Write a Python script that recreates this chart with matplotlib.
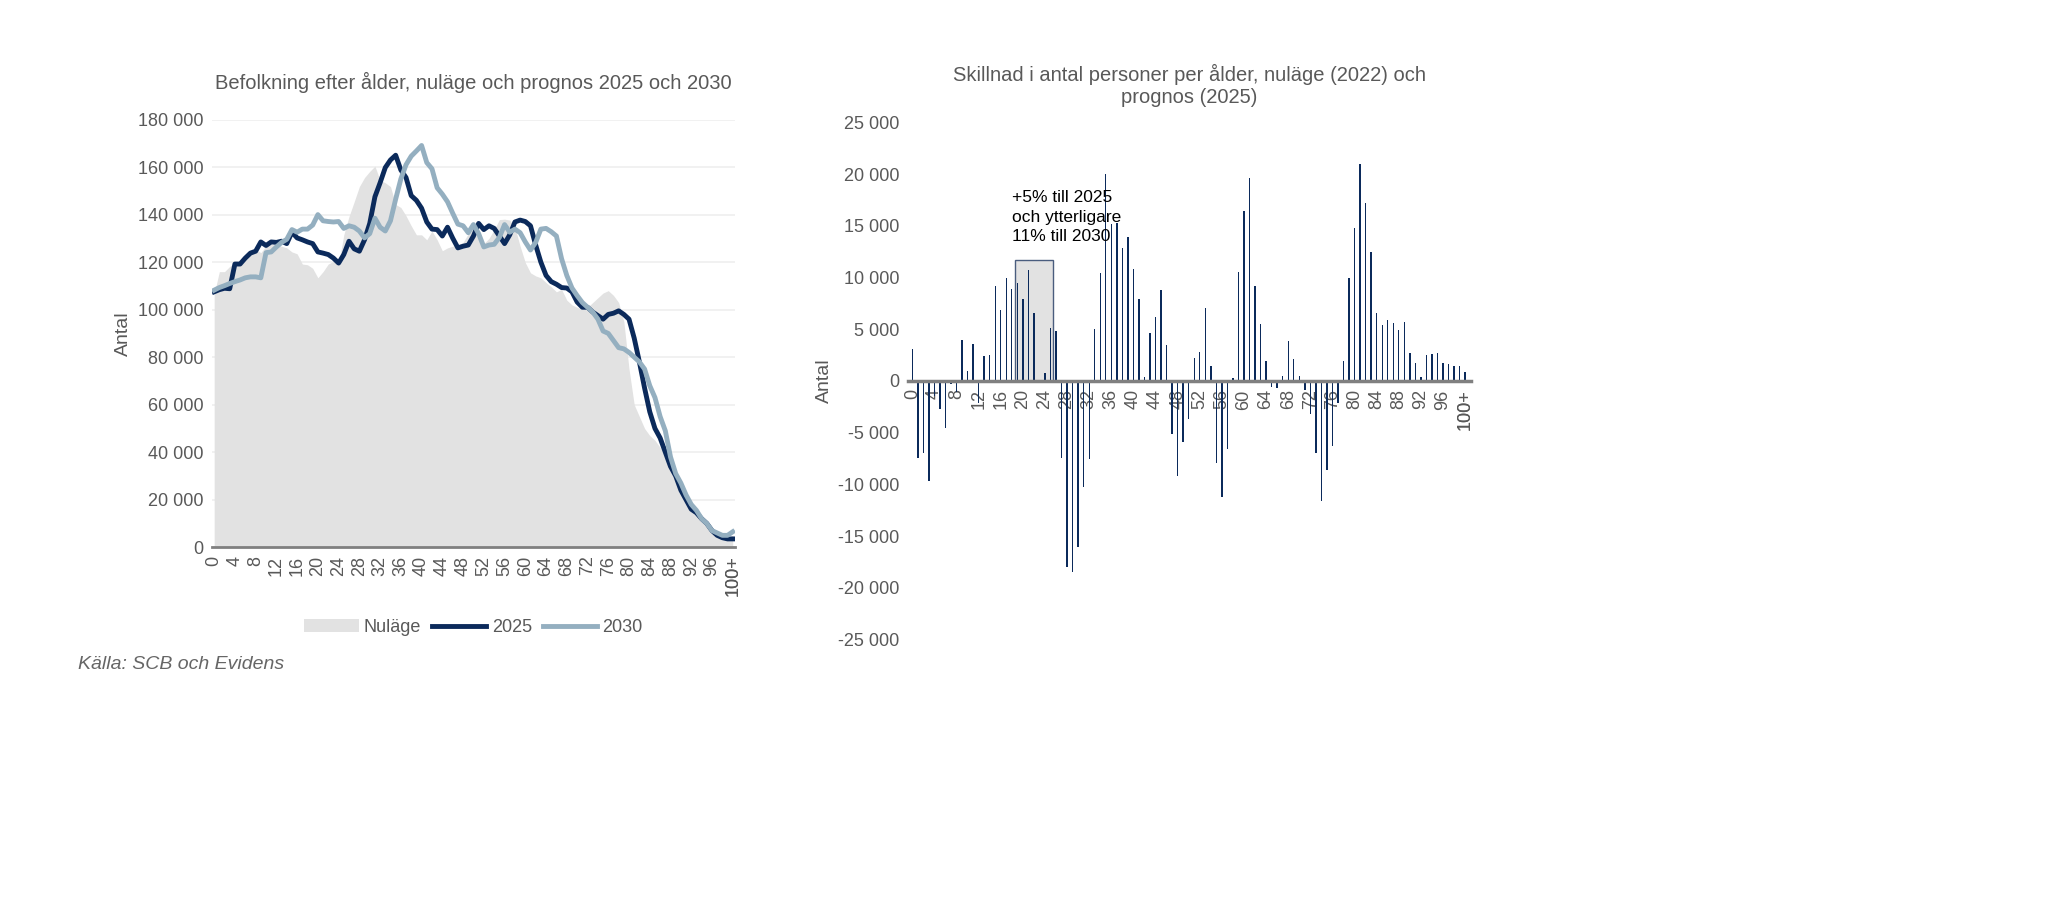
import numpy as np
import matplotlib.pyplot as plt
from matplotlib.patches import Rectangle
from matplotlib.ticker import FuncFormatter

# Data (thousands of persons, age 0..100+)
ages = np.arange(101)
age_labels = [str(a) if a < 100 else "100+" for a in ages]

nulage = [106.6, 116, 116, 118.2, 119.8, 120.6, 121.4, 124, 125.3, 124,
          126.7, 127.5, 127.2, 126.7, 126, 124.3, 123.5, 119.2, 118.9, 117.4,
          113.4, 116, 119.2, 120.3, 119.2, 131.5, 139.2, 145.4, 151.8, 155.6,
          158.2, 160.4, 154.5, 153.4, 151.8, 144.3, 143, 139.5, 135.3, 131.5,
          131.5, 129.4, 133.1, 129.4, 124.8, 126, 126.7, 127.2, 128.3, 132,
          134.2, 131.5, 127.8, 130, 133.7, 137.9, 138.1, 137.7, 134.7, 126.7,
          119.8, 115.5, 114.2, 113.4, 111.4, 109.6, 107.5, 108.5, 104, 102,
          101, 100, 101, 103, 105, 107, 108, 106, 103, 95,
          75, 60, 55, 50, 47, 45, 42, 39, 35, 30,
          26, 22, 18, 15, 12, 10, 8, 6, 5, 4, 5]
prog2025 = [107.5, 108.4, 109, 108.8, 119.2, 119.2, 121.7, 123.8, 124.6, 128.5,
            127, 128.5, 128.3, 128.8, 127.8, 132.6, 130.2, 129.4, 128.5, 127.8,
            124.3, 123.8, 123.2, 121.7, 119.6, 123.2, 128.8, 125.6, 124.6, 129.4,
            136.3, 147.5, 153.4, 159.8, 163, 165, 158.8, 155.6, 148, 146,
            142.7, 136.9, 133.9, 133.7, 131, 134.7, 130.1, 126, 126.7, 127.2,
            131, 136.3, 133.7, 135.3, 134.2, 131, 127.8, 131.5, 136.9, 137.7,
            137.1, 135.3, 127.2, 120, 114.4, 111.8, 110.7, 109.3, 109.1, 107.5,
            103.2, 101, 101, 99, 97.5, 96, 98, 98.5, 99.5, 98,
            96, 88, 78, 67, 57, 50, 46, 40, 34, 30,
            24, 20, 16, 14.5, 12, 10, 7, 5, 4, 3.5, 3.5]
prog2030 = [108.2, 109.3, 110.1, 111, 111.8, 112.5, 113.4, 113.8, 113.8, 113.4,
            124, 124.3, 126.4, 128.3, 129.6, 133.7, 132.6, 133.9, 133.9, 135.6,
            140, 137.4, 137.1, 136.9, 137.1, 134.2, 135.3, 134.7, 133.1, 130.2,
            132, 138.5, 134.7, 133.1, 137.4, 146.5, 155, 161, 164.6, 166.8,
            169.1, 161.9, 159.3, 151.3, 148.6, 145.4, 140.6, 136, 135.3, 132.4,
            135.8, 132, 126.4, 127.2, 127.5, 130.4, 135.8, 132.6, 133.9, 132.4,
            128.5, 125.1, 128.3, 133.9, 134.2, 132.8, 131, 121.4, 114.4, 109.1,
            105.9, 103, 101, 99, 96, 91, 90, 87, 84, 83.5,
            82, 80, 78, 75, 68, 63, 55, 49, 38, 31,
            27, 22, 18, 15.5, 12, 10, 7, 6, 5, 5, 6.5]

# Difference 2022 -> 2025, persons
diff = [3100, -7400, -7000, -9700, -1500, -2700, -4500, -300, -1100, 4000,
        1000, 3600, -2100, 2400, 2500, 9200, 6900, 10000, 8900, 9500,
        7900, 10700, 6600, 0, 800, 5100, 4800, -7400, -18000, -18500,
        -16000, -10200, -7500, 5000, 10400, 20000, 15200, 15300, 12900, 13900,
        10800, 7900, 350, 4600, 6200, 8800, 3500, -5100, -9200, -5900,
        -3700, 2200, 2800, 7100, 1400, -7900, -11200, -6600, 250, 10500,
        16400, 19600, 9200, 5500, 1900, -550, -700, 500, 3900, 2100,
        500, -900, -3200, -7000, -11600, -8600, -6300, -2100, 1900, 10000,
        14800, 21000, 17200, 12500, 6600, 5400, 5900, 5600, 4900, 5700,
        2700, 1700, 400, 2500, 2600, 2700, 1700, 1600, 1400, 1400, 900]

NAVY = "#0b2a5b"
LIGHT = "#94afc0"
GREY = "#e2e2e2"
TXT = "#595959"

plt.rcParams['font.family'] = ['Liberation Sans', 'DejaVu Sans']

fig = plt.figure(figsize=(20.54, 9.06), dpi=100)
fmt = FuncFormatter(lambda v, p: f"{int(v):,}".replace(",", " "))
tick_pos = ages[::4].tolist() + [100]
tick_lab = [age_labels[a] for a in ages[::4]] + ["100+"]

# Left chart
ax1 = fig.add_axes([0.103, 0.396, 0.255, 0.472])
ax1.fill_between(ages, np.array(nulage) * 1000, color=GREY, lw=0, label="Nuläge")
ax1.plot(ages, np.array(prog2025) * 1000, color=NAVY, lw=3.5, label="2025")
ax1.plot(ages, np.array(prog2030) * 1000, color=LIGHT, lw=3.5, label="2030")
ax1.set_xlim(-0.5, 100.5)
ax1.set_ylim(0, 180000)
ax1.set_yticks(np.arange(0, 180001, 20000))
ax1.yaxis.set_major_formatter(fmt)
ax1.set_xticks(tick_pos)
ax1.set_xticklabels(tick_lab)
ax1.grid(axis='y', color="#efefef", lw=1.2)
ax1.set_axisbelow(True)
for s in ['top', 'right', 'left']:
    ax1.spines[s].set_visible(False)
ax1.spines['bottom'].set_color("#808080")
ax1.spines['bottom'].set_linewidth(2)
ax1.tick_params(axis='both', length=0, labelsize=13, colors=TXT, pad=6)
ax1.tick_params(axis='x', labelrotation=90)
ax1.set_ylabel("Antal", fontsize=14, color=TXT)
ax1.set_title("Befolkning efter ålder, nuläge och prognos 2025 och 2030",
              fontsize=14.5, color=TXT, pad=22)
ax1.legend(loc='upper center', bbox_to_anchor=(0.5, -0.13), ncol=3, frameon=False,
           fontsize=13, labelcolor=TXT, handlelength=3, columnspacing=0.6, handletextpad=0.3)

# Right chart
ax2 = fig.add_axes([0.442, 0.294, 0.274, 0.571])
ax2.add_patch(Rectangle((18.5, 0), 7, 11700, facecolor=GREY, edgecolor="#4a5d7e", lw=1, zorder=1))
ax2.bar(ages, diff, width=0.25, color=NAVY, zorder=2)
ax2.text(18, 13200, "+5% till 2025\noch ytterligare\n11% till 2030", fontsize=12.5,
         color="black", va='bottom', linespacing=1.4)
ax2.set_xlim(-0.8, 101)
ax2.set_ylim(-25000, 25000)
ax2.set_yticks(np.arange(-25000, 25001, 5000))
ax2.yaxis.set_major_formatter(fmt)
for s in ['top', 'right', 'left']:
    ax2.spines[s].set_visible(False)
ax2.spines['bottom'].set_position(('data', 0))
ax2.spines['bottom'].set_color("#808080")
ax2.spines['bottom'].set_linewidth(2.5)
ax2.set_xticks(tick_pos)
ax2.set_xticklabels(tick_lab)
ax2.tick_params(axis='both', length=0, labelsize=13, colors=TXT, pad=6)
ax2.tick_params(axis='x', labelrotation=90)
ax2.set_ylabel("Antal", fontsize=14, color=TXT)
ax2.set_title("Skillnad i antal personer per ålder, nuläge (2022) och\nprognos (2025)",
              fontsize=14.5, color=TXT, pad=14)

fig.text(0.038, 0.262, "Källa: SCB och Evidens", fontsize=14, style='italic', color="#666666")

fig.savefig("out.png", dpi=100)
